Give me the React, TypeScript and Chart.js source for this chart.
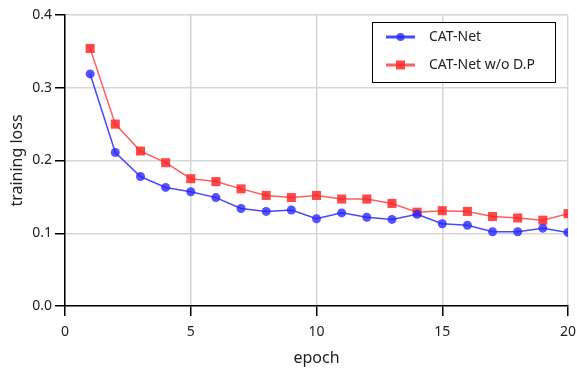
import React, { useEffect, useRef } from "react";
import { Chart, registerables } from "chart.js";

Chart.register(...registerables);

const epochs = [1, 2, 3, 4, 5, 6, 7, 8, 9, 10, 11, 12, 13, 14, 15, 16, 17, 18, 19, 20];
const catNet = [0.319, 0.211, 0.178, 0.163, 0.157, 0.149, 0.134, 0.130, 0.132, 0.120, 0.128, 0.122, 0.119, 0.126, 0.113, 0.111, 0.102, 0.102, 0.107, 0.101];
const catNetWoDP = [0.354, 0.250, 0.213, 0.197, 0.175, 0.171, 0.161, 0.152, 0.149, 0.152, 0.147, 0.147, 0.141, 0.129, 0.131, 0.130, 0.123, 0.121, 0.118, 0.127];
const seriesLabels = ["CAT-Net", "CAT-Net w/o D.P"];
const xTitle = "epoch";
const yTitle = "training loss";

const FONT = "'Noto Sans', 'Open Sans', sans-serif";

const legendBoxPlugin = {
  id: "legendBox",
  afterDraw(chart: any) {
    const { ctx, chartArea } = chart;
    const right = chartArea.right - 13;
    const top = chartArea.top + 7;
    const w = 183;
    const h = 60;
    const left = right - w;
    ctx.save();
    ctx.fillStyle = "#ffffff";
    ctx.fillRect(left, top, w, h);
    ctx.strokeStyle = "#000000";
    ctx.lineWidth = 1;
    ctx.strokeRect(left + 0.5, top + 0.5, w, h);
    chart.data.datasets.forEach((ds: any, i: number) => {
      const cy = top + 15 + i * 28;
      const x0 = left + 14;
      const x1 = left + 43;
      ctx.strokeStyle = ds.borderColor;
      ctx.lineWidth = 3;
      ctx.beginPath();
      ctx.moveTo(x0, cy);
      ctx.lineTo(x1, cy);
      ctx.stroke();
      ctx.fillStyle = ds.pointBackgroundColor;
      const cx = (x0 + x1) / 2;
      if (ds.pointStyle === "rect") {
        ctx.fillRect(cx - 4.5, cy - 4.5, 9, 9);
      } else {
        ctx.beginPath();
        ctx.arc(cx, cy, 4, 0, Math.PI * 2);
        ctx.fill();
      }
      ctx.fillStyle = "#222222";
      ctx.font = `14px ${FONT}`;
      ctx.textBaseline = "middle";
      ctx.textAlign = "left";
      ctx.fillText(ds.label, left + 57, cy);
    });
    ctx.restore();
  },
};

export default function App() {
  const ref = useRef<HTMLCanvasElement>(null);
  useEffect(() => {
    if (!ref.current) return;
    const chart = new Chart(ref.current, {
      type: "line",
      data: {
        datasets: [
          {
            label: seriesLabels[0],
            data: epochs.map((e, i) => ({ x: e, y: catNet[i] })),
            borderColor: "rgba(40,40,255,0.85)",
            backgroundColor: "rgba(40,40,255,0.8)",
            pointBackgroundColor: "rgba(40,40,255,0.8)",
            pointBorderWidth: 0,
            pointRadius: 4.5,
            pointStyle: "circle",
            borderWidth: 1.5,
            tension: 0,
          },
          {
            label: seriesLabels[1],
            data: epochs.map((e, i) => ({ x: e, y: catNetWoDP[i] })),
            borderColor: "rgba(255,40,40,0.75)",
            backgroundColor: "rgba(255,40,40,0.85)",
            pointBackgroundColor: "rgba(255,40,40,0.85)",
            pointBorderWidth: 0,
            pointRadius: 6.4,
            pointStyle: "rect",
            borderWidth: 1.5,
            tension: 0,
          },
        ] as any,
      },
      options: {
        responsive: false,
        animation: false,
        layout: { padding: { top: 15, right: 9, left: 0, bottom: 0 } },
        plugins: { legend: { display: false }, tooltip: { enabled: false } },
        scales: {
          x: {
            type: "linear",
            min: 0,
            max: 20,
            ticks: { stepSize: 5, color: "#222", font: { family: FONT, size: 14 }, padding: 8 },
            grid: { color: "#d6d6d6", lineWidth: 1.5, tickColor: "#000", tickLength: 10 },
            border: { color: "#000", width: 1.5 },
            title: { display: true, text: xTitle, color: "#222", font: { family: FONT, size: 16 }, padding: { top: 0, bottom: 4 } },
            afterFit: (s: any) => { s.height = 66; s.paddingLeft = 0; s.paddingRight = 0; },
          },
          y: {
            min: 0,
            max: 0.4,
            ticks: { stepSize: 0.1, color: "#222", font: { family: FONT, size: 14 }, padding: 3, callback: (v: any) => Number(v).toFixed(1) },
            grid: { color: "#d6d6d6", lineWidth: 1.5, tickColor: "#000", tickLength: 10 },
            border: { color: "#000", width: 1.5 },
            title: { display: true, text: yTitle, color: "#222", font: { family: FONT, size: 16 }, padding: { top: 8, bottom: 0 } },
            afterFit: (s: any) => { s.width = 65; s.paddingTop = 0; s.paddingBottom = 0; },
          },
        },
      } as any,
      plugins: [legendBoxPlugin],
    });
    return () => chart.destroy();
  }, []);
  return (
    <div style={{ position: "absolute", left: 0, top: 0, width: 577, height: 372, background: "#fff" }}>
      <canvas ref={ref} width={577} height={372} style={{ display: "block" }} />
    </div>
  );
}
